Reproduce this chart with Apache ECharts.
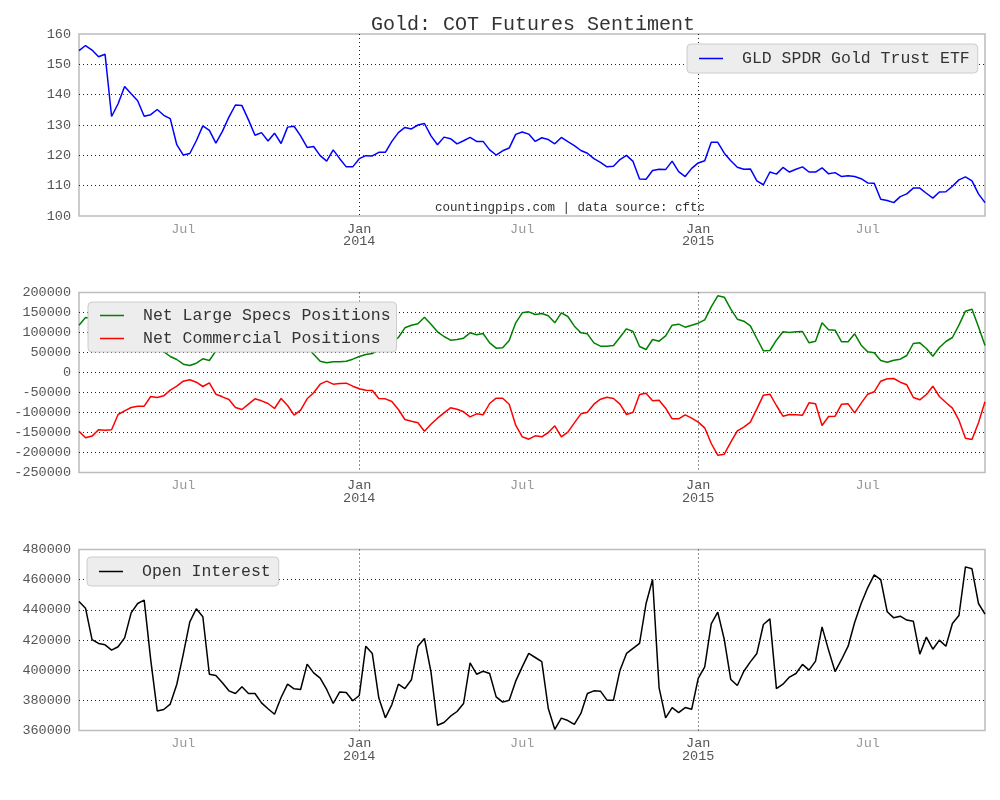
<!DOCTYPE html>
<html>
<head>
<meta charset="utf-8">
<script src="https://cdn.jsdelivr.net/npm/echarts@6/dist/echarts.min.js"></script>
<style>html,body{margin:0;padding:0;background:#fff}#c{width:1000px;height:800px}</style>
</head>
<body>
<div id="c"></div>
<script>
// weekly COT report weeks (Tuesdays), Mar 5 2013 .. Nov 3 2015
const startDate = '2013-03-05';
const weekCount = 140;
const categories = [];
(function(){
  const d0 = new Date(startDate + 'T00:00:00Z');
  for (let i = 0; i < weekCount; i++) {
    const d = new Date(d0.getTime() + i * 7 * 86400000);
    categories.push(d.toISOString().slice(0, 10));
  }
})();

const tickIndex = [16, 43, 68, 95, 121];
const tickLabels = ['Jul', 'Jan\n2014', 'Jul', 'Jan\n2015', 'Jul'];
const majorTickIndex = [43, 95];

const gld = [
154.5,156.2,154.7,152.5,153.3,132.8,137.0,142.7,140.3,138.0,
132.9,133.4,135.1,133.2,132.1,123.5,120.1,120.6,124.8,129.7,
128.2,124.0,127.9,132.6,136.6,136.4,131.7,126.6,127.5,124.7,
127.3,123.9,129.3,129.6,126.4,122.6,122.9,119.9,118.1,121.8,
118.9,116.2,116.2,118.9,119.9,119.8,121.0,121.0,124.6,127.5,
129.2,128.7,130.0,130.5,126.4,123.5,126.0,125.5,123.8,124.8,
125.9,124.6,124.6,121.8,120.1,121.5,122.4,126.9,127.7,127.0,
124.6,125.8,125.2,123.8,125.9,124.5,123.2,121.6,120.7,118.9,
117.7,116.2,116.4,118.6,120.0,118.0,112.2,112.1,115.0,115.4,
115.3,118.1,114.6,113.0,115.7,117.5,118.2,124.3,124.3,120.7,
118.2,116.1,115.4,115.5,111.6,110.3,114.5,113.8,116.0,114.5,
115.4,116.2,114.5,114.5,115.9,113.9,114.3,113.0,113.3,113.0,
112.3,110.9,110.8,105.5,105.1,104.4,106.4,107.3,109.2,109.2,
107.5,105.9,107.9,108.0,109.8,111.9,112.9,111.6,107.3,104.4
];

const largeSpecs = [
118000,137500,135000,128000,125000,125000,95000,88000,80000,78000,
78000,58000,60000,52000,40000,32500,20800,17500,23300,34200,
30000,54000,65000,72000,90000,95000,82000,70000,75000,82000,
95000,72000,88000,105000,95000,62000,45800,28300,24200,26700,
26700,28300,33300,40000,45000,47500,57500,65000,75000,87500,
111700,118300,121700,138300,120800,101700,90000,80800,82500,85800,
99200,94200,97500,74200,60800,61700,80000,124200,149200,151700,
145000,147500,141700,124200,149200,140000,115800,99200,96700,74200,
65800,65800,67500,88300,109200,102500,65000,57500,82500,78300,
91700,118300,120800,113300,118300,123300,131700,164200,191700,188300,
158300,133300,128300,116700,85000,54200,55000,80800,101700,100000,
101700,102500,74200,78300,124200,106700,105800,76700,76700,96700,
68300,51700,49200,30000,25800,30800,33300,42500,72500,74200,
60000,40800,62500,77500,87500,118300,153300,158300,114200,67500
];

const commercial = [
-146700,-163300,-159000,-143300,-144200,-143300,-105000,-95800,-87500,-84200,
-84200,-60000,-62500,-58300,-44200,-34200,-21700,-18300,-24200,-35000,
-25800,-54200,-60800,-67500,-87500,-92500,-79200,-65800,-70800,-77500,
-90000,-65000,-82500,-106700,-94200,-65800,-50800,-29200,-21700,-29200,
-27500,-26700,-34200,-40800,-44200,-45000,-65000,-65800,-72500,-92500,
-117500,-121700,-125800,-146700,-129200,-114200,-100800,-88300,-91700,-98300,
-110800,-103300,-105800,-77500,-64200,-64200,-79200,-131700,-160800,-166700,
-158300,-160800,-150000,-133300,-160800,-149200,-125800,-103300,-99200,-79200,
-66700,-61700,-65000,-79200,-105000,-99200,-55000,-51700,-70800,-69200,
-89200,-115800,-115800,-105800,-114200,-124200,-138300,-177500,-206700,-204200,
-174200,-145800,-136700,-124200,-90800,-56700,-54200,-82500,-109200,-105000,
-105800,-106700,-75800,-78300,-132500,-110000,-109200,-79200,-78300,-100800,
-76700,-54200,-48300,-21700,-15800,-15000,-24200,-30800,-62500,-68300,
-55000,-34200,-60000,-75000,-89200,-119200,-164200,-167500,-125800,-73300
];

const openInterest = [
445500,441100,420300,417700,416800,413300,415500,421400,438000,444200,
446400,407000,373000,373900,377500,390500,410600,432000,440700,435400,
397300,396500,391600,386300,384500,389000,384500,384500,378300,374400,
370800,381900,390700,387600,387200,404000,398200,394700,387200,377900,
385600,385200,379700,383200,415900,411000,381500,368400,377200,390700,
387800,393600,415900,421000,398900,363500,365300,369500,372600,377900,
404900,397300,399300,397800,382300,378800,380100,392700,402200,411100,
408400,405700,374600,360700,368200,366600,364000,371300,384500,386300,
386100,380100,380100,400000,411100,414400,417700,444200,460100,388300,
368400,375200,371900,375200,374100,394500,402200,430700,438500,420300,
393800,389800,399300,405500,411100,430300,434000,387800,390700,395400,
397800,403800,400000,406000,428700,413300,399100,407100,415900,431600,
444200,454600,463200,460100,438700,434700,435800,433200,432500,410600,
421900,413900,419900,415900,430900,436200,468500,467200,444200,437100
];

const FONT = '"Liberation Mono", "DejaVu Sans Mono", monospace';

function xAxisFor(gridIndex) {
  return {
    type: 'category', gridIndex: gridIndex, data: categories, boundaryGap: false,
    axisLine: {show: false}, axisTick: {show: false},
    axisLabel: {
      interval: 0,
      hideOverlap: false,
      margin: 7,
      formatter: function (v) {
        const idx = categories.indexOf(v);
        const k = tickIndex.indexOf(idx);
        if (k < 0) return '';
        const t = tickLabels[k];
        if (t.indexOf('\n') >= 0) {
          return t.split('\n').map(function (s) { return '{maj|' + s + '}'; }).join('\n');
        }
        return '{min|' + t + '}';
      },
      rich: {
        maj: {fontFamily: FONT, fontSize: 13.5, color: '#555', lineHeight: 12.5},
        min: {fontFamily: FONT, fontSize: 13.5, color: '#999', lineHeight: 12.5}
      }
    },
    splitLine: {
      show: true,
      interval: function (idx) { return majorTickIndex.indexOf(idx) >= 0; },
      lineStyle: {color: '#222', type: [1, 3], width: 1}
    }
  };
}

function yAxisFor(gridIndex, min, max, interval) {
  return {
    type: 'value', gridIndex: gridIndex, min: min, max: max, interval: interval,
    axisLine: {show: false}, axisTick: {show: false},
    axisLabel: {fontFamily: FONT, fontSize: 13.5, color: '#555', margin: 8,
      formatter: function (v) { return String(v); }},
    splitLine: {show: true, showMinLine: false, showMaxLine: false,
      lineStyle: {color: '#222', type: [1, 3], width: 1}}
  };
}

const gridStyle = {show: true, borderColor: '#bcbcbc', borderWidth: 1.5, backgroundColor: '#fff', containLabel: false};

const legendBase = {
  backgroundColor: '#ededed', borderColor: '#cccccc', borderWidth: 1, borderRadius: 4,
  itemWidth: 24, itemHeight: 1.5, icon: 'rect',
  textStyle: {fontFamily: FONT, fontSize: 16.5, color: '#333', padding: [0, 0, 0, 14]},
  inactiveColor: '#333', selectedMode: false
};

const option = {
  animation: false,
  backgroundColor: '#fff',
  title: {
    text: 'Gold: COT Futures Sentiment',
    left: 528, top: 10, textAlign: 'center',
    textStyle: {fontFamily: FONT, fontSize: 20, fontWeight: 'normal', color: '#333'}
  },
  graphic: [{
    type: 'text', left: 435, top: 201,
    style: {text: 'countingpips.com | data source: cftc', font: '12.5px ' + FONT, fill: '#333'}
  }],
  grid: [
    Object.assign({left: 79, right: 15, top: 34, height: 182}, gridStyle),
    Object.assign({left: 79, right: 15, top: 292.5, height: 180}, gridStyle),
    Object.assign({left: 79, right: 15, top: 549.5, height: 181}, gridStyle)
  ],
  xAxis: [xAxisFor(0), xAxisFor(1), xAxisFor(2)],
  yAxis: [
    yAxisFor(0, 100, 160, 10),
    yAxisFor(1, -250000, 200000, 50000),
    yAxisFor(2, 360000, 480000, 20000)
  ],
  legend: [
    Object.assign({data: ['GLD SPDR Gold Trust ETF'], left: 687, top: 44, padding: [6, 8, 6, 12]}, legendBase),
    Object.assign({data: ['Net Large Specs Positions', 'Net Commercial Positions'], orient: 'vertical', itemGap: 6,
      left: 88, top: 302, padding: [5, 6, 5, 12]}, legendBase),
    Object.assign({data: ['Open Interest'], left: 87, top: 557, padding: [6, 8, 6, 12]}, legendBase)
  ],
  series: [
    {name: 'GLD SPDR Gold Trust ETF', type: 'line', xAxisIndex: 0, yAxisIndex: 0, data: gld,
      symbol: 'none', lineStyle: {color: '#0000ff', width: 1.5}, itemStyle: {color: '#0000ff'}},
    {name: 'Net Large Specs Positions', type: 'line', xAxisIndex: 1, yAxisIndex: 1, data: largeSpecs,
      symbol: 'none', lineStyle: {color: '#008000', width: 1.5}, itemStyle: {color: '#008000'}},
    {name: 'Net Commercial Positions', type: 'line', xAxisIndex: 1, yAxisIndex: 1, data: commercial,
      symbol: 'none', lineStyle: {color: '#ff0000', width: 1.5}, itemStyle: {color: '#ff0000'}},
    {name: 'Open Interest', type: 'line', xAxisIndex: 2, yAxisIndex: 2, data: openInterest,
      symbol: 'none', lineStyle: {color: '#000000', width: 1.5}, itemStyle: {color: '#000000'}}
  ]
};

const chart = echarts.init(document.getElementById('c'), null, {renderer: 'canvas'});
chart.setOption(option);
</script>
</body>
</html>
